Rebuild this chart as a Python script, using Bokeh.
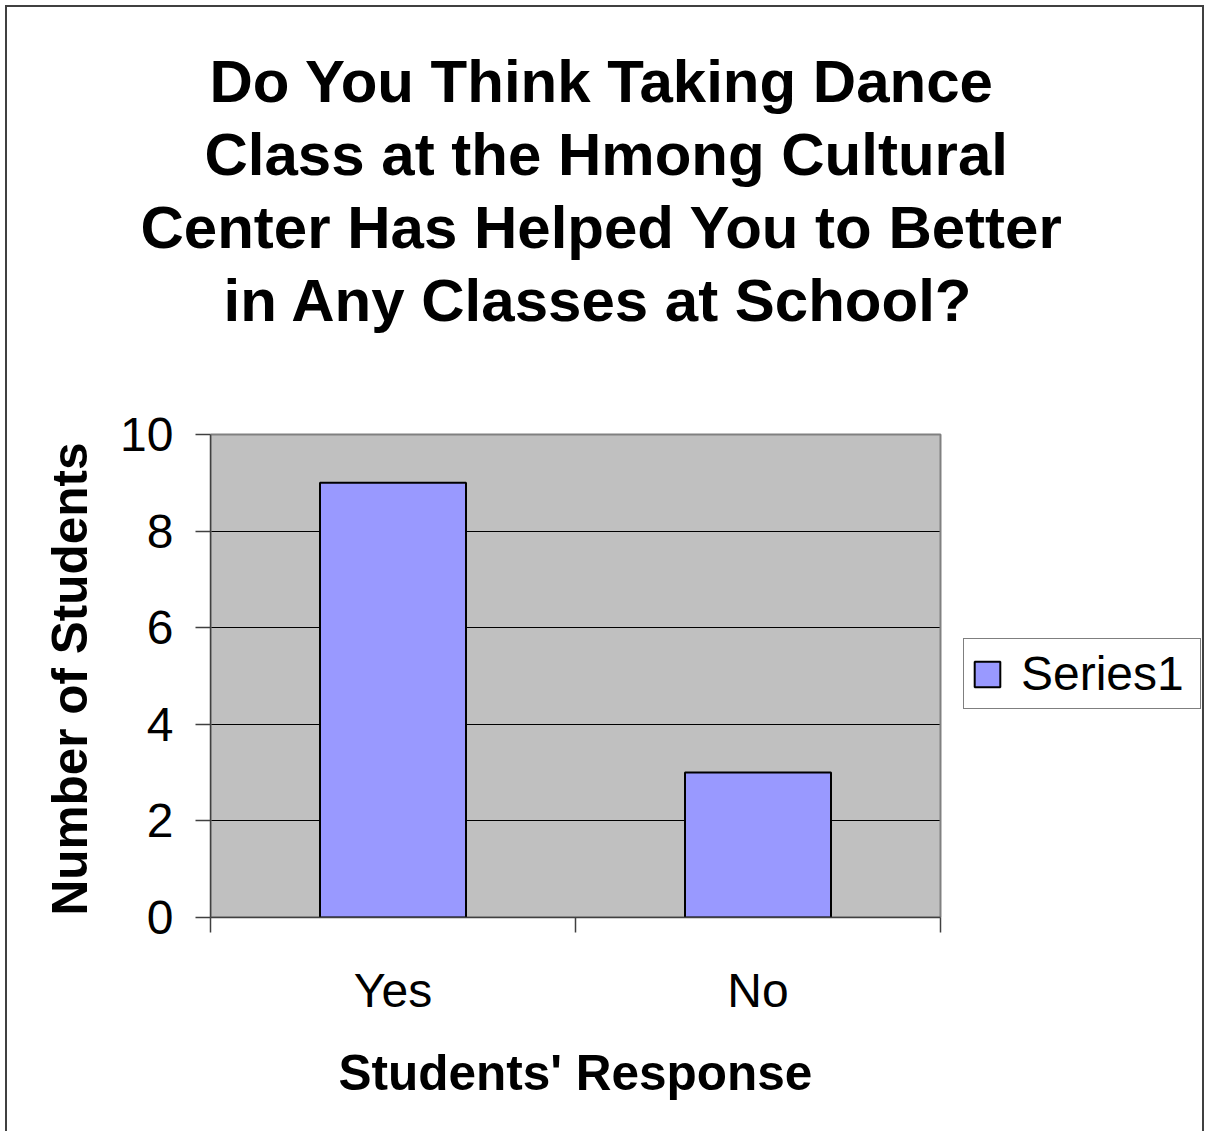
from bokeh.plotting import figure
from bokeh.models import (Legend, LegendItem, FixedTicker, Range1d, Title,
                          ColumnDataSource)
from bokeh.embed import file_html
from bokeh.resources import INLINE

# --- data -------------------------------------------------------------
categories = ["Yes", "No"]
students = [9, 3]
y_ticks = [0, 2, 4, 6, 8, 10]
series_name = "Series1"
title_lines = [
    "Do You Think Taking Dance",
    "Class at the Hmong Cultural",
    "Center Has Helped You to Better",
    "in Any Classes at School?",
]
x_title = "Students' Response"
y_title = "Number of Students"

# --- geometry (page pixels) ---------------------------------------------
PAGE_W, PAGE_H = 1208, 1133
EDGE = 7                                   # chart border sits at 5..7 px
W, H = PAGE_W - EDGE, PAGE_H - EDGE        # canvas size inside the border
PLOT_LEFT, PLOT_RIGHT, PLOT_TOP, PLOT_BOTTOM = 210, 940, 434, 917
FRAME_TOP = 335                            # title block sits above this

FONT = "Liberation Sans"
AXIS_COLOR = "#404040"
BAR_COLOR = "#9999FF"
PLOT_BG = "#C0C0C0"

n = len(categories)
y_max = y_ticks[-1]
xs = [i + 0.5 for i in range(n)]

# the frame runs from the plot area to the right edge of the canvas and up
# to the title block; the grey plot area is the [0, n] x [0, y_max] box
px_per_x = (PLOT_RIGHT - PLOT_LEFT) / n
px_per_y = (PLOT_BOTTOM - PLOT_TOP) / y_max
x_end = (EDGE + W - 2 - PLOT_LEFT) / px_per_x
y_end = (PLOT_BOTTOM - FRAME_TOP) / px_per_y

p = figure(
    width=W - 2, height=H, output_backend="svg", toolbar_location=None,
    x_range=Range1d(0, x_end), y_range=Range1d(0, y_end),
    min_border_left=PLOT_LEFT - EDGE, min_border_right=0,
    min_border_top=FRAME_TOP - EDGE, min_border_bottom=PAGE_H - PLOT_BOTTOM,
)
p.styles = {
    "margin-left": "5px", "margin-top": "5px",
    "border-left": f"2px solid {AXIS_COLOR}",
    "border-top": f"2px solid {AXIS_COLOR}",
    "border-right": f"2px solid {AXIS_COLOR}",
}
p.background_fill_color = "white"
p.border_fill_color = "white"
p.outline_line_color = None

# grey plot area (beneath the gridlines)
p.quad(left=[0], right=[n], bottom=[0], top=[y_max],
       fill_color=PLOT_BG, line_color=None, level="image")

# gridlines
p.xgrid.visible = False
p.ygrid.ticker = FixedTicker(ticks=y_ticks[1:-1])
p.ygrid.grid_line_color = "black"
p.ygrid.grid_line_width = 1

# white beyond the plot area, trimming the gridlines at its right edge
p.quad(left=[n], right=[x_end], bottom=[0], top=[y_end],
       fill_color="white", line_color=None)
# plot-area border
p.quad(left=[0], right=[n], bottom=[0], top=[y_max],
       fill_alpha=0, line_color="#808080", line_width=2)

source = ColumnDataSource(dict(x=xs, top=students))
bars = p.vbar(x="x", top="top", bottom=0, width=0.4, source=source,
              fill_color=BAR_COLOR, line_color="black", line_width=2)

# x axis: labels at category centres, tick marks on category boundaries
xa = p.xaxis[0]
xa.bounds = (0, n)
xa.ticker = FixedTicker(ticks=xs, minor_ticks=list(range(n + 1)))
xa.major_label_overrides = {x: c for x, c in zip(xs, categories)}
xa.major_tick_in = 0
xa.major_tick_out = 0
xa.minor_tick_in = 0
xa.minor_tick_out = 15
xa.minor_tick_line_color = AXIS_COLOR
xa.minor_tick_line_width = 1.5
xa.axis_line_color = AXIS_COLOR
xa.axis_line_width = 1.5
xa.major_label_text_font = FONT
xa.major_label_text_font_size = "48px"
xa.major_label_text_color = "black"
xa.major_label_standoff = 31

# y axis
ya = p.yaxis[0]
ya.bounds = (0, y_max)
ya.ticker = FixedTicker(ticks=y_ticks)
ya.major_tick_in = 0
ya.major_tick_out = 15
ya.minor_tick_in = 0
ya.minor_tick_out = 0
ya.major_tick_line_color = AXIS_COLOR
ya.major_tick_line_width = 1.5
ya.axis_line_color = AXIS_COLOR
ya.axis_line_width = 1.5
ya.major_label_text_font = FONT
ya.major_label_text_font_size = "48px"
ya.major_label_text_color = "black"
ya.major_label_standoff = 22

# axis titles, centred on the plot area rather than on the whole frame
p.add_layout(Title(
    text=x_title, align="left", offset=128, standoff=50,
    vertical_align="top",
    text_font=FONT, text_font_size="49.5px", text_font_style="bold",
    text_color="black",
), "below")
p.add_layout(Title(
    text=y_title, align="left", offset=2, standoff=42,
    vertical_align="bottom",
    text_font=FONT, text_font_size="49.5px", text_font_style="bold",
    text_color="black",
), "left")

# chart title, one Title per line, nearest line first
line_offsets = [-1, -6, -70, 13]
for line, off in reversed(list(zip(title_lines, line_offsets))):
    p.add_layout(Title(
        text=line, align="left", offset=off, standoff=4,
        vertical_align="bottom",
        text_font=FONT, text_font_size="60px", text_font_style="bold",
        text_color="black",
    ), "above")

# legend, right of the plot area (offset from the frame's bottom-left)
legend = Legend(
    items=[LegendItem(label=series_name, renderers=[bars])],
    location=(963 - PLOT_LEFT, PLOT_BOTTOM - 709), orientation="vertical",
    margin=0, padding=7, label_standoff=18, label_width=172,
    glyph_width=32, glyph_height=32,
    label_text_font=FONT, label_text_font_size="48px", label_text_color="black",
    border_line_color="black", border_line_width=1.5,
    background_fill_color="white", background_fill_alpha=1,
)
p.add_layout(legend)

open("out.html", "w").write(file_html(p, INLINE))
